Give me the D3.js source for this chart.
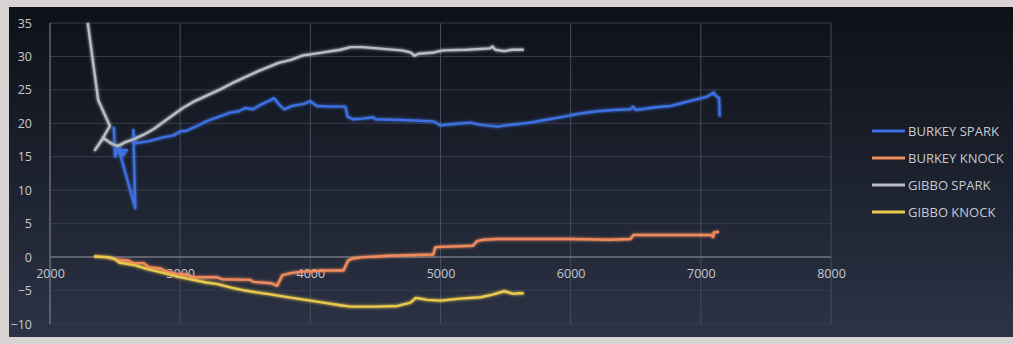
<!DOCTYPE html>
<html>
<head>
<meta charset="utf-8">
<script src="https://cdn.jsdelivr.net/npm/d3@7"></script>
<style>
html,body{margin:0;padding:0;background:#d9d6d6;}
svg{display:block;}
</style>
</head>
<body>
<svg id="chart" width="1013" height="344"></svg>
<script>
const seriesNames = ["BURKEY SPARK", "BURKEY KNOCK", "GIBBO SPARK", "GIBBO KNOCK"];
const seriesColors = ["#3d6fe0", "#ee8a5c", "#b9bcc3", "#e9c94c"];
const xTicks = [2000, 3000, 4000, 5000, 6000, 7000, 8000];
const yTicks = [-10, -5, 0, 5, 10, 15, 20, 25, 30, 35];

const burkeySpark = [[2490,19.5],[2500,15.0],[2530,16.5],[2560,15.2],[2590,16.0],[2530,16.0],[2655,7.3],[2640,19.0],[2650,17.0],[2750,17.3],[2870,17.9],[2950,18.2],[3000,18.8],[3050,18.9],[3130,19.6],[3200,20.3],[3300,21.0],[3385,21.6],[3450,21.8],[3500,22.3],[3560,22.1],[3620,22.8],[3700,23.5],[3720,23.8],[3760,22.8],[3800,22.1],[3860,22.6],[3950,22.9],[4000,23.3],[4050,22.6],[4150,22.5],[4270,22.5],[4285,21.0],[4330,20.6],[4400,20.7],[4485,20.9],[4500,20.6],[4700,20.5],[4945,20.3],[5000,19.7],[5100,19.9],[5230,20.1],[5300,19.8],[5440,19.5],[5500,19.7],[5600,19.9],[5690,20.1],[5800,20.5],[5950,21.0],[6050,21.4],[6200,21.8],[6330,22.0],[6460,22.1],[6480,22.5],[6500,22.0],[6650,22.4],[6770,22.6],[6850,23.0],[6950,23.5],[7050,24.0],[7100,24.6],[7120,24.0],[7140,23.8],[7145,21.0]];
const burkeyKnock = [[2340,0.1],[2420,0.0],[2480,-0.2],[2515,-0.4],[2600,-0.5],[2640,-0.9],[2720,-0.9],[2760,-1.5],[2850,-1.7],[2900,-2.2],[2975,-2.5],[3050,-2.6],[3100,-3.0],[3280,-3.0],[3320,-3.3],[3540,-3.4],[3560,-3.7],[3700,-3.9],[3745,-4.3],[3785,-2.7],[3850,-2.4],[3920,-2.2],[4100,-2.0],[4255,-2.0],[4290,-0.5],[4330,-0.2],[4400,0.0],[4515,0.1],[4600,0.2],[4945,0.4],[4960,1.5],[5250,1.7],[5280,2.4],[5330,2.6],[5440,2.7],[6000,2.7],[6300,2.6],[6460,2.7],[6480,3.3],[7080,3.3],[7095,3.0],[7100,3.7],[7140,3.8]];
const gibboSpark = [[2290,35],[2370,23.5],[2460,19.6],[2400,17.6],[2345,16.0],[2410,17.8],[2470,17.0],[2520,16.6],[2580,17.2],[2640,17.6],[2720,18.3],[2800,19.2],[2900,20.6],[3020,22.3],[3100,23.2],[3200,24.1],[3300,25.0],[3400,26.0],[3500,26.9],[3600,27.8],[3700,28.6],[3750,29.0],[3850,29.5],[3950,30.2],[4000,30.3],[4100,30.6],[4230,31.0],[4310,31.4],[4400,31.4],[4515,31.2],[4700,30.9],[4770,30.6],[4800,30.1],[4830,30.4],[4950,30.6],[5020,30.9],[5200,31.0],[5380,31.2],[5400,31.5],[5420,31.0],[5490,30.8],[5550,31.0],[5640,31.0]];
const gibboKnock = [[2340,0.1],[2450,0.0],[2500,-0.3],[2530,-0.8],[2650,-1.2],[2750,-1.8],[2900,-2.5],[3000,-3.0],[3100,-3.4],[3200,-3.8],[3280,-4.0],[3400,-4.6],[3500,-5.0],[3600,-5.3],[3670,-5.5],[3800,-5.9],[3900,-6.2],[4000,-6.5],[4100,-6.8],[4230,-7.2],[4310,-7.4],[4500,-7.4],[4670,-7.3],[4770,-6.8],[4810,-6.1],[4900,-6.4],[5000,-6.5],[5150,-6.2],[5310,-6.0],[5400,-5.6],[5490,-5.1],[5560,-5.5],[5600,-5.4],[5640,-5.4]];

const seriesData = [burkeySpark, burkeyKnock, gibboSpark, gibboKnock];

const svg = d3.select("#chart");
const W = 1013, H = 344;

const defs = svg.append("defs");
const grad = defs.append("linearGradient").attr("id","bg").attr("x1",0).attr("y1",0).attr("x2",0).attr("y2",1);
grad.append("stop").attr("offset","0%").attr("stop-color","#0e1117");
grad.append("stop").attr("offset","45%").attr("stop-color","#1a1f2b");
grad.append("stop").attr("offset","100%").attr("stop-color","#2c3346");
const glow = defs.append("filter").attr("id","glow").attr("x","-10%").attr("y","-10%").attr("width","120%").attr("height","120%");
glow.append("feGaussianBlur").attr("in","SourceGraphic").attr("stdDeviation",1.6).attr("result","b");
const fm = glow.append("feMerge");
fm.append("feMergeNode").attr("in","b");
fm.append("feMergeNode").attr("in","SourceGraphic");

// outer frame (photo border)
svg.append("rect").attr("width",W).attr("height",H).attr("fill","#d8d4d4");
svg.append("rect").attr("x",9).attr("y",7).attr("width",W-9).attr("height",H-14).attr("fill","url(#bg)");

const x = d3.scaleLinear().domain([2000, 8000]).range([50, 831]);
const y = d3.scaleLinear().domain([-10, 35]).range([324, 23]);

// gridlines
const grid = svg.append("g");
grid.selectAll("line.h").data(yTicks).join("line")
  .attr("x1", x(2000)).attr("x2", x(8000))
  .attr("y1", d => y(d)).attr("y2", d => y(d))
  .attr("stroke", "#363c49").attr("stroke-width", 1);
grid.selectAll("line.v").data(xTicks).join("line")
  .attr("y1", y(35)).attr("y2", y(-10))
  .attr("x1", d => x(d)).attr("x2", d => x(d))
  .attr("stroke", d => d === 2000 ? "#8a8e98" : "#464c5a").attr("stroke-width", 1);
// zero axis line
svg.append("line").attr("x1", x(2000)).attr("x2", x(8000)).attr("y1", y(0)).attr("y2", y(0))
  .attr("stroke", "#6e7380").attr("stroke-width", 1.5);

// y axis labels
svg.append("g").attr("transform", `translate(${x(2000) - 18},0)`)
  .call(d3.axisLeft(y).tickValues(yTicks).tickSize(0).tickPadding(0))
  .call(g => g.select(".domain").remove())
  .call(g => g.selectAll("text").attr("fill", "#c6c9d0").attr("font-size", 12.5)
      .attr("font-family", "'Open Sans', 'DejaVu Sans', sans-serif"));

// x axis labels below zero line
svg.append("g").attr("transform", `translate(0,${y(0) + 12})`)
  .call(d3.axisBottom(x).tickValues(xTicks).tickFormat(d3.format("d")).tickSize(0).tickPadding(0))
  .call(g => g.select(".domain").remove())
  .call(g => g.selectAll("text").attr("fill", "#c6c9d0").attr("font-size", 12.5)
      .attr("font-family", "'Open Sans', 'DejaVu Sans', sans-serif"));

// series lines
const line = d3.line().x(d => x(d[0])).y(d => y(d[1]));
svg.append("g").attr("filter", "url(#glow)")
  .selectAll("path").data(seriesData).join("path")
  .attr("d", line)
  .attr("fill", "none")
  .attr("stroke", (d, i) => seriesColors[i])
  .attr("stroke-width", 2.4)
  .attr("stroke-linejoin", "round");

// legend
const leg = svg.append("g");
const legY = d3.scalePoint().domain(seriesNames).range([131, 212]);
const item = leg.selectAll("g").data(seriesNames).join("g")
  .attr("transform", d => `translate(872,${legY(d)})`);
item.append("line").attr("x1", 0).attr("x2", 33).attr("y1", 0).attr("y2", 0)
  .attr("stroke", (d, i) => seriesColors[i]).attr("stroke-width", 2.8);
item.append("text").attr("x", 36).attr("y", 0).attr("dy", "0.35em")
  .attr("fill", "#c6c9d0").attr("font-size", 13)
  .attr("font-family", "'Open Sans', 'DejaVu Sans', sans-serif")
  .text(d => d);
</script>
</body>
</html>
